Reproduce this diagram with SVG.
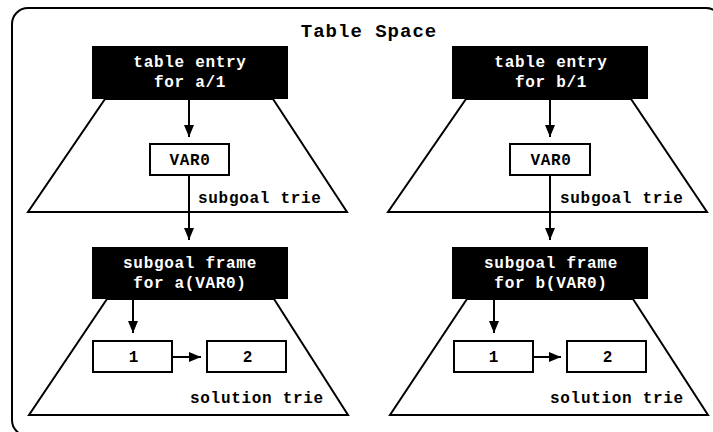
<svg xmlns="http://www.w3.org/2000/svg" width="713" height="432" viewBox="0 0 713 432">
<defs>
<style>
text{font-family:"Liberation Mono","Courier New",monospace;font-weight:bold;text-anchor:middle;}
.t{font-size:16px;letter-spacing:0.7px;}
.w{fill:#fff;}
.b{fill:#000;}
.title{font-size:19px;letter-spacing:1px;fill:#000;}
.trap{fill:#fff;stroke:#000;stroke-width:2;stroke-linejoin:miter;}
.blk{fill:#000;}
.box{fill:#fff;stroke:#000;stroke-width:2;}
.lbl{text-anchor:start;}
#connectors line{stroke:#000;stroke-width:2;marker-end:url(#ah);}
</style>
<marker id="ah" markerUnits="userSpaceOnUse" markerWidth="12" markerHeight="10" refX="12" refY="5" orient="auto">
<path d="M0,0 L12,5 L0,10 z" fill="#000"/>
</marker>
</defs>
<rect x="0" y="0" width="713" height="432" fill="#fff"/>
<g id="frame">
<rect x="12" y="8" width="710" height="428" rx="16" ry="16" fill="none" stroke="#000" stroke-width="2"/>
<text class="title" x="369" y="37">Table Space</text>
</g>
<g id="subgoal-trie-a">
<polygon class="trap" points="105,99 273,99 347,212 28,212"/>
<text class="t b lbl" x="198" y="203">subgoal trie</text>
</g>
<g id="subgoal-trie-b">
<polygon class="trap" points="466,99 631,99 707,212 388,212"/>
<text class="t b lbl" x="560" y="203">subgoal trie</text>
</g>
<g id="solution-trie-a">
<polygon class="trap" points="107,299 274,299 348,415 29,415"/>
<text class="t b lbl" x="190" y="403">solution trie</text>
</g>
<g id="solution-trie-b">
<polygon class="trap" points="467,299 633,299 708,415 390,415"/>
<text class="t b lbl" x="550" y="403">solution trie</text>
</g>
<g id="table-entry-a">
<rect class="blk" x="92" y="46" width="196" height="53"/>
<text class="t w" x="190" y="67">table entry</text>
<text class="t w" x="190" y="87">for a/1</text>
</g>
<g id="table-entry-b">
<rect class="blk" x="452" y="46" width="196" height="53"/>
<text class="t w" x="551" y="67">table entry</text>
<text class="t w" x="551" y="87">for b/1</text>
</g>
<g id="var0-a">
<rect class="box" x="150" y="144" width="79" height="31"/>
<text class="t b" x="190" y="165">VAR0</text>
</g>
<g id="var0-b">
<rect class="box" x="510" y="144" width="80" height="31"/>
<text class="t b" x="551" y="165">VAR0</text>
</g>
<g id="subgoal-frame-a">
<rect class="blk" x="92" y="247" width="196" height="52"/>
<text class="t w" x="190" y="268">subgoal frame</text>
<text class="t w" x="190" y="288">for a(VAR0)</text>
</g>
<g id="subgoal-frame-b">
<rect class="blk" x="452" y="247" width="196" height="52"/>
<text class="t w" x="551" y="268">subgoal frame</text>
<text class="t w" x="551" y="288">for b(VAR0)</text>
</g>
<g id="sol-a-1">
<rect class="box" x="93" y="341" width="79" height="31"/>
<text class="t b" x="134" y="362">1</text>
</g>
<g id="sol-a-2">
<rect class="box" x="207" y="341" width="79" height="31"/>
<text class="t b" x="248" y="362">2</text>
</g>
<g id="sol-b-1">
<rect class="box" x="454" y="341" width="79" height="31"/>
<text class="t b" x="494" y="362">1</text>
</g>
<g id="sol-b-2">
<rect class="box" x="567" y="341" width="79" height="31"/>
<text class="t b" x="608" y="362">2</text>
</g>
<g id="connectors">
<line x1="189" y1="99" x2="189" y2="137"/>
<line x1="189" y1="175" x2="189" y2="240"/>
<line x1="133" y1="299" x2="133" y2="333"/>
<line x1="172" y1="357" x2="201" y2="357"/>
<line x1="550" y1="99" x2="550" y2="137"/>
<line x1="550" y1="175" x2="550" y2="240"/>
<line x1="494" y1="299" x2="494" y2="333"/>
<line x1="533" y1="357" x2="561" y2="357"/>
</g>
</svg>
